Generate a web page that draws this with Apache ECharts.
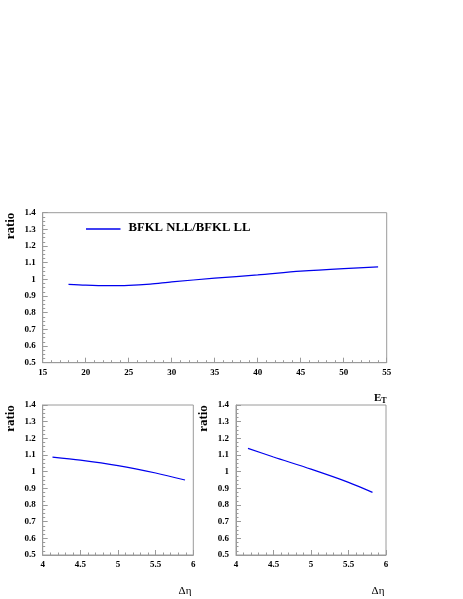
<!DOCTYPE html>
<html><head><meta charset="utf-8">
<script src="https://cdn.jsdelivr.net/npm/echarts@6/dist/echarts.min.js"></script>
<style>html,body{margin:0;padding:0;background:#fff}#c{width:463px;height:599px}</style>
</head><body><div id="c"></div>
<script>
// Top panel: ratio vs E_T
const etX = [18, 20, 22.5, 25, 27.5, 30, 35, 40, 45, 50, 54];
const etY = [0.970, 0.965, 0.962, 0.964, 0.972, 0.985, 1.007, 1.027, 1.049, 1.065, 1.075];
// Bottom-left panel: ratio vs Delta eta
const deta1X = [4.13, 4.5, 5.0, 5.5, 5.89];
const deta1Y = [1.087, 1.069, 1.036, 0.992, 0.950];
// Bottom-right panel: ratio vs Delta eta
const deta2X = [4.16, 4.5, 5.0, 5.5, 5.82];
const deta2Y = [1.140, 1.088, 1.015, 0.936, 0.876];
const legendText = 'BFKL NLL/BFKL LL';
const yLabel = 'ratio';

const pair = (xs, ys) => xs.map((x, i) => [x, ys[i]]);
const FONT = '"Liberation Serif", "DejaVu Serif", serif';
const grey = '#9a9a9a';

function xAxis(gi, min, max, interval) {
  return {
    type: 'value', gridIndex: gi, min, max, interval,
    axisLine: {show: true, onZero: false, lineStyle: {color: grey, width: 1}},
    axisTick: {show: true, inside: true, length: 5, lineStyle: {color: grey}},
    minorTick: {show: true, splitNumber: 5, length: 2.5, lineStyle: {color: grey}},
    splitLine: {show: false},
    axisLabel: {color: '#000', fontFamily: FONT, fontWeight: 'bold', fontSize: 9, margin: 5}
  };
}
function yAxis(gi) {
  return {
    type: 'value', gridIndex: gi, min: 0.5, max: 1.4, interval: 0.1,
    axisLine: {show: true, onZero: false, lineStyle: {color: grey, width: 1}},
    axisTick: {show: true, inside: true, length: 5, lineStyle: {color: grey}},
    minorTick: {show: true, splitNumber: 4, length: 2.5, lineStyle: {color: grey}},
    splitLine: {show: false},
    axisLabel: {color: '#000', fontFamily: FONT, fontWeight: 'bold', fontSize: 9, margin: 7,
      formatter: v => String(Math.round(v * 10) / 10)}
  };
}
function line(gi, data) {
  return {
    type: 'line', xAxisIndex: gi, yAxisIndex: gi, data, smooth: 0.3,
    symbol: 'none', lineStyle: {color: '#0000ee', width: 1.2}, animation: false
  };
}

const chart = echarts.init(document.getElementById('c'), null, {renderer: 'canvas'});
chart.setOption({
  backgroundColor: '#fff',
  animation: false,
  grid: [
    {left: 42.7, top: 212.7, width: 344, height: 150, show: true, borderColor: grey, borderWidth: 1},
    {left: 42.7, top: 405, width: 150.6, height: 150, show: true, borderColor: grey, borderWidth: 1},
    {left: 236, top: 405, width: 150, height: 150, show: true, borderColor: grey, borderWidth: 1}
  ],
  xAxis: [xAxis(0, 15, 55, 5), xAxis(1, 4, 6, 0.5), xAxis(2, 4, 6, 0.5)],
  yAxis: [yAxis(0), yAxis(1), yAxis(2)],
  series: [line(0, pair(etX, etY)), line(1, pair(deta1X, deta1Y)), line(2, pair(deta2X, deta2Y))],
  graphic: [
    {type: 'line', shape: {x1: 86, y1: 229, x2: 120.5, y2: 229}, style: {stroke: '#0000ee', lineWidth: 1.3}},
    {type: 'text', x: 128.5, y: 227.5, style: {text: legendText, font: 'bold 12.7px ' + FONT, fill: '#000', textVerticalAlign: 'middle'}},
    {type: 'text', x: 10.5, y: 226, rotation: Math.PI / 2, style: {text: yLabel, font: 'bold 13px ' + FONT, fill: '#000', textAlign: 'center', textVerticalAlign: 'middle'}},
    {type: 'text', x: 10.5, y: 418.5, rotation: Math.PI / 2, style: {text: yLabel, font: 'bold 13px ' + FONT, fill: '#000', textAlign: 'center', textVerticalAlign: 'middle'}},
    {type: 'text', x: 204, y: 418.5, rotation: Math.PI / 2, style: {text: yLabel, font: 'bold 13px ' + FONT, fill: '#000', textAlign: 'center', textVerticalAlign: 'middle'}},
    {type: 'text', x: 374, y: 398, style: {
      text: '{e|E}{t|T}', textVerticalAlign: 'middle', fill: '#000',
      rich: {e: {fontFamily: FONT, fontWeight: 'bold', fontSize: 11, fill: '#000'},
             t: {fontFamily: FONT, fontWeight: 'bold', fontSize: 8, fill: '#000', padding: [6, 0, 0, 0]}}
    }},
    {type: 'text', x: 185, y: 591.5, style: {text: 'Δη', font: '11px ' + FONT, fill: '#000', textAlign: 'center', textVerticalAlign: 'middle'}},
    {type: 'text', x: 378, y: 591.5, style: {text: 'Δη', font: '11px ' + FONT, fill: '#000', textAlign: 'center', textVerticalAlign: 'middle'}}
  ]
});
</script></body></html>
